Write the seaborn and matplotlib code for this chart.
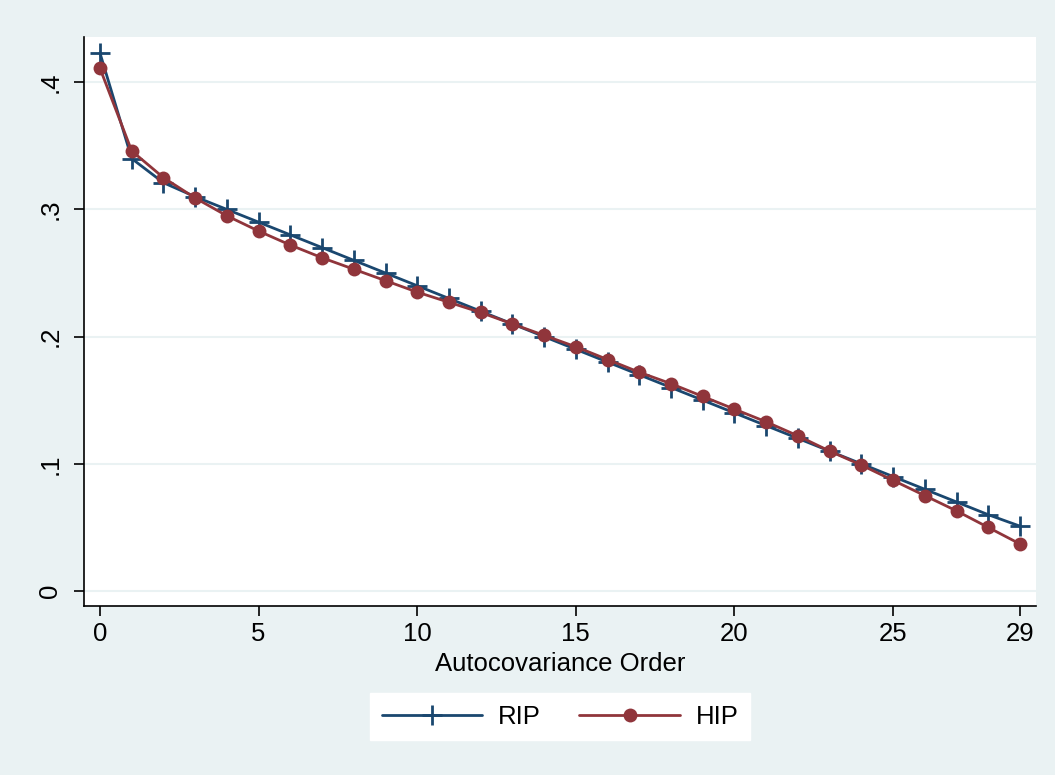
import matplotlib
matplotlib.use("Agg")
import matplotlib.pyplot as plt
import pandas as pd
import seaborn as sns

# autocovariance order 0..29
order = list(range(30))
rip = [0.423, 0.340, 0.321, 0.310, 0.300, 0.290, 0.280, 0.270, 0.260, 0.250,
       0.240, 0.230, 0.220, 0.210, 0.200, 0.190, 0.180, 0.170, 0.160, 0.150,
       0.140, 0.130, 0.120, 0.110, 0.100, 0.090, 0.080, 0.070, 0.060, 0.051]
hip = [0.411, 0.346, 0.325, 0.309, 0.295, 0.283, 0.272, 0.262, 0.253, 0.244,
       0.235, 0.227, 0.219, 0.210, 0.201, 0.192, 0.182, 0.172, 0.163, 0.153,
       0.143, 0.133, 0.122, 0.110, 0.099, 0.087, 0.075, 0.063, 0.050, 0.037]
series = ["RIP", "HIP"]
x_ticks = [0, 5, 10, 15, 20, 25, 29]
y_ticks = [0, 0.1, 0.2, 0.3, 0.4]
y_labels = ["0", ".1", ".2", ".3", ".4"]

df = pd.DataFrame({
    "order": order * 2,
    "value": rip + hip,
    "series": ["RIP"] * len(order) + ["HIP"] * len(order),
})

bg = "#EAF2F3"
colors = {"RIP": "#1A476F", "HIP": "#90353B"}

sns.set_style("white")
plt.rcParams["font.family"] = ["Liberation Sans", "DejaVu Sans"]
plt.rcParams["text.color"] = "black"
plt.rcParams["axes.labelcolor"] = "black"
plt.rcParams["xtick.color"] = "black"
plt.rcParams["ytick.color"] = "black"

fig = plt.figure(figsize=(10.55, 7.75), dpi=100, facecolor=bg)
ax = fig.add_axes([0.0796, 0.218, 0.9024, 0.734])
ax.set_facecolor("white")

sns.lineplot(data=df[df.series == "RIP"], x="order", y="value", color=colors["RIP"],
             marker="+", markersize=14, markeredgewidth=2, markeredgecolor=colors["RIP"],
             linewidth=2, label="RIP", ax=ax, legend=False)
sns.lineplot(data=df[df.series == "HIP"], x="order", y="value", color=colors["HIP"],
             marker="o", markersize=10, markeredgewidth=0, linewidth=2,
             label="HIP", ax=ax, legend=False)

ax.set_xlim(-0.504, 29.504)
ax.set_ylim(-0.0118, 0.4354)
ax.set_xticks(x_ticks)
ax.set_xticklabels([str(t) for t in x_ticks], fontsize=18.5)
ax.set_yticks(y_ticks)
ax.set_yticklabels(y_labels, fontsize=18.5, rotation=90, va="center")
ax.grid(axis="y", color=bg, linewidth=1.5)
ax.set_axisbelow(True)

for s in ["top", "right"]:
    ax.spines[s].set_visible(False)
for s in ["left", "bottom"]:
    ax.spines[s].set_color("black")
    ax.spines[s].set_linewidth(1.2)
ax.tick_params(axis="both", direction="out", length=7.5, width=1.2, color="black",
               left=True, bottom=True)
ax.tick_params(axis="y", pad=8)
ax.tick_params(axis="x", pad=4)

ax.set_xlabel("Autocovariance Order", fontsize=18.5, labelpad=4)
ax.set_ylabel("")

handles, labels = ax.get_legend_handles_labels()
leg = fig.legend(handles, labels, loc="center", bbox_to_anchor=(0.531, 0.075),
                 ncol=2, fontsize=18.5, frameon=True, fancybox=False, framealpha=1,
                 handlelength=3.9, columnspacing=1.5, handletextpad=0.62,
                 borderpad=0.45)
leg.get_frame().set_facecolor("white")
leg.get_frame().set_edgecolor("white")

fig.savefig("out.png", dpi=100, facecolor=bg)
